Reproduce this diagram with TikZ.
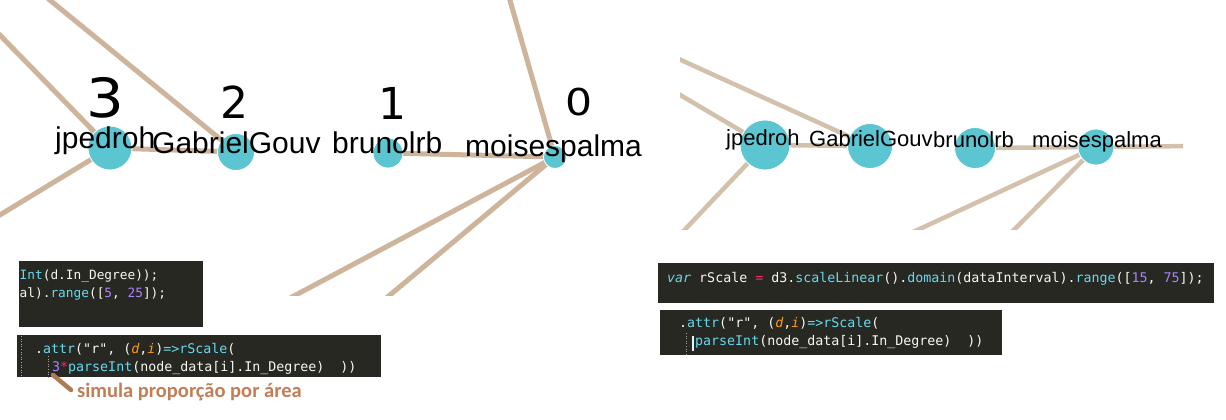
\documentclass[tikz,border=0pt]{standalone}
\usepackage{fontspec}
\setmainfont{Liberation Sans}
\newfontfamily\codefont{DejaVu Sans Mono}
\newfontfamily\notefont{Carlito}
\newfontfamily\digitfont{DejaVu Sans}
\definecolor{circ}{HTML}{5BC5D1}
\definecolor{edgeL}{HTML}{CDB49B}
\definecolor{edgeR}{HTML}{D3C1AC}
\definecolor{mkbg}{HTML}{272822}
\definecolor{mkfg}{HTML}{F8F8F2}
\definecolor{mkcy}{HTML}{66D9EF}
\definecolor{mkpu}{HTML}{AE81FF}
\definecolor{mkpk}{HTML}{F92672}
\definecolor{mkor}{HTML}{FD971F}
\definecolor{notec}{HTML}{C27E57}
\definecolor{notes}{HTML}{B07A55}
\pgfdeclarelayer{back}
\pgfdeclarelayer{edges}
\pgfsetlayers{back,edges,main}
\tikzset{
  vtx/.style={circle, fill=circ, draw=white, line width=0.8pt, inner sep=0pt},
  elinkL/.style={draw=edgeL, line width=5pt},
  elinkR/.style={draw=edgeR, line width=4.5pt},
  lblL/.style={anchor=base west, inner sep=0pt, text=black, font=\fontsize{30}{34}\selectfont},
  lblR/.style={anchor=base west, inner sep=0pt, text=black, font=\fontsize{22}{26}\selectfont},
  digit/.style={anchor=base, inner sep=0pt, text=black, font=\digitfont\fontsize{44}{50}\selectfont},
  codebox/.style={fill=mkbg, draw=none},
  codeA/.style={anchor=base west, inner sep=0pt, text=mkfg, font=\codefont\fontsize{12.8}{15}\selectfont},
  codeB/.style={anchor=base west, inner sep=0pt, text=mkfg, font=\codefont\fontsize{13.3}{16}\selectfont},
  guide/.style={draw=gray!70, line width=0.6pt, dotted},
}
\newcommand{\cy}[1]{\textcolor{mkcy}{#1}}
\newcommand{\pu}[1]{\textcolor{mkpu}{#1}}
\newcommand{\pk}[1]{\textcolor{mkpk}{#1}}
\newcommand{\orit}[1]{\textcolor{mkor}{\itshape #1}}
\begin{document}
\begin{tikzpicture}[x=1pt,y=-1pt]
\useasboundingbox (0,0) rectangle (1226,420);
\begin{pgfonlayer}{back}
\fill[white] (0,0) rectangle (1226,420);
\end{pgfonlayer}

% ---------- left graph ----------
\node[vtx, minimum size=44pt] (jpL) at (110,148) {};
\node[vtx, minimum size=37pt] (gbL) at (236,152) {};
\node[vtx, minimum size=30pt] (brL) at (388,153) {};
\node[vtx, minimum size=23pt] (moL) at (555,157) {};
\coordinate (lA) at (-6,29);
\coordinate (lB) at (40,-8);
\coordinate (lC) at (-10,221);
\coordinate (lD) at (507,-10);
\coordinate (lE) at (277,305);
\coordinate (lF) at (378,305);
\begin{pgfonlayer}{edges}
\begin{scope}
\clip (0,0) rectangle (660,295);
\draw[elinkL] (lA) -- (jpL.center);
\draw[elinkL] (lB) -- (gbL.center);
\draw[elinkL] (jpL.center) -- (lC);
\draw[elinkL] (jpL.center) -- (gbL.center);
\draw[elinkL] (brL.center) -- (moL.center);
\draw[elinkL] (moL.center) -- (lD);
\draw[elinkL] (moL.center) -- (lE);
\draw[elinkL] (moL.center) -- (lF);
\end{scope}
\end{pgfonlayer}
\node[lblL] (tjpL) at (55,148) {jpedroh};
\node[lblL] (tgbL) at (152,153) {GabrielGouv};
\node[lblL] (tbrL) at (332,153) {brunolrb};
\node[lblL] (tmoL) at (465,156) {moisespalma};
\node[digit, font=\digitfont\fontsize{54}{60}\selectfont, xscale=1.1] (d3) at (105,117) {3};
\node[digit] (d2) at (234,118) {2};
\node[digit] (d1) at (392,119) {1};
\node[digit, font=\digitfont\fontsize{37}{42}\selectfont, xscale=1.15] (d0) at (579,115) {0};

% ---------- right graph ----------
\node[vtx, minimum size=50pt] (jpR) at (765,145) {};
\node[vtx, minimum size=45pt] (gbR) at (870,146) {};
\node[vtx, minimum size=41pt] (brR) at (975,148) {};
\node[vtx, minimum size=36pt] (moR) at (1096,147) {};
\coordinate (rA) at (670,55);
\coordinate (rB) at (670,89);
\coordinate (rC) at (675,240);
\coordinate (rD) at (1195,146);
\coordinate (rE) at (896,240);
\coordinate (rF) at (1004,240);
\begin{pgfonlayer}{edges}
\begin{scope}
\clip (680,0) rectangle (1183,229);
\draw[elinkR] (rA) -- (gbR.center);
\draw[elinkR] (rB) -- (jpR.center);
\draw[elinkR] (jpR.center) -- (gbR.center);
\draw[elinkR] (jpR.center) -- (rC);
\draw[elinkR] (brR.center) -- (moR.center);
\draw[elinkR] (moR.center) -- (rD);
\draw[elinkR] (moR.center) -- (rE);
\draw[elinkR] (moR.center) -- (rF);
\end{scope}
\end{pgfonlayer}
\node[lblR] (tjpR) at (726,145) {jpedroh};
\node[lblR] (tgbR) at (809,146) {GabrielGouv};
\node[lblR] (tbrR) at (933,147) {brunolrb};
\node[lblR] (tmoR) at (1032,147) {moisespalma};

% ---------- code snippets, left ----------
\fill[codebox] (19,261) rectangle (203,327);
\node[codeA] (la1) at (19.5,279) {\cy{Int}(d.In\_Degree));};
\node[codeA] (la2) at (19.5,297) {al).\cy{range}([\pu{5}, \pu{25}]);};
\fill[codebox] (17,335) rectangle (381,377);
\draw[guide] (21,336) -- (21,377);
\draw[guide] (48,356) -- (48,377);
\node[codeB] (lb1) at (35,353) {.\cy{attr}("r", (\orit{d},\orit{i})\cy{=>rScale}(};
\node[codeB] (lb2) at (52,371) {\pu{3}\pk{*}\cy{parseInt}(node\_data[i].In\_Degree)\ \ ))};
\coordinate (na) at (53,375);
\coordinate (nb) at (71,390);
\draw[notes, line width=4.5pt, line cap=round] (na) -- (nb);
\node[anchor=base west, inner sep=0pt, text=notec, font=\notefont\bfseries\fontsize{20.5}{24}\selectfont] (note) at (77,397) {simula proporção por área};

% ---------- code snippets, right ----------
\fill[codebox] (658,263) rectangle (1214,303);
\node[codeB] (ra1) at (667,282) {\cy{\itshape var} rScale \pk{=} d3.\cy{scaleLinear}().\cy{domain}(dataInterval).\cy{range}([\pu{15}, \pu{75}]);};
\fill[codebox] (660,310) rectangle (1002,355);
\draw[guide] (686,333) -- (686,355);
\node[codeB] (rb1) at (679,327) {.\cy{attr}("r", (\orit{d},\orit{i})\cy{=>rScale}(};
\node[codeB] (rb2) at (695,345) {\cy{parseInt}(node\_data[i].In\_Degree)\ \ ))};
\draw[white!75!mkcy, line width=1.6pt] (693,336) -- (693,351);
\end{tikzpicture}
\end{document}
